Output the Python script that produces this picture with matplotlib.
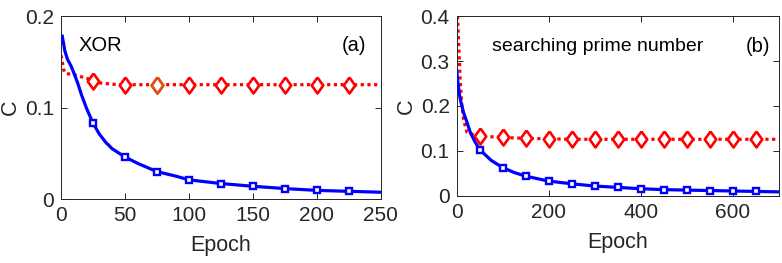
import matplotlib
matplotlib.use("Agg")
import matplotlib.pyplot as plt
import numpy as np

plt.rcParams['font.family'] = ['Liberation Sans', 'DejaVu Sans']

# (a) XOR
xor_epoch_blue = [1, 3, 5, 8, 10, 13, 16, 20, 25, 30, 35, 40, 50, 60, 75, 90, 100,
                  125, 150, 175, 200, 225, 250]
xor_cost_blue = [0.178, 0.162, 0.153, 0.145, 0.138, 0.127, 0.114, 0.099, 0.083, 0.071,
                 0.062, 0.055, 0.046, 0.039, 0.030, 0.025, 0.021, 0.017, 0.014, 0.0115,
                 0.0095, 0.0085, 0.0075]
xor_epoch_red = [0, 1, 2, 3, 5, 10, 15, 20, 25, 30, 40, 50, 75, 100, 125, 150, 175,
                 200, 225, 250]
xor_cost_red = [0.157, 0.150, 0.142, 0.138, 0.137, 0.136, 0.134, 0.132, 0.1295, 0.127,
                0.1255, 0.125, 0.125, 0.125, 0.125, 0.125, 0.125, 0.125, 0.125, 0.125]
xor_marks = [25, 50, 75, 100, 125, 150, 175, 200, 225]
xor_odd_mark = 75

# (b) searching prime number
prime_epoch_blue = [0, 3, 6, 10, 15, 22, 30, 40, 50, 75, 100, 125, 150, 200, 250, 300,
                    350, 400, 450, 500, 550, 600, 650, 700]
prime_cost_blue = [0.28, 0.25, 0.225, 0.205, 0.185, 0.165, 0.14, 0.12, 0.103, 0.079,
                   0.063, 0.052, 0.044, 0.033, 0.027, 0.022, 0.019, 0.016, 0.014, 0.013,
                   0.012, 0.011, 0.010, 0.009]
prime_epoch_red = [2, 5, 8, 11, 15, 22, 35, 50, 100, 150, 200, 250, 300, 350, 400, 450,
                   500, 550, 600, 650, 700]
prime_cost_red = [0.40, 0.32, 0.25, 0.205, 0.17, 0.142, 0.137, 0.133, 0.130, 0.128,
                  0.127, 0.126, 0.126, 0.126, 0.126, 0.126, 0.126, 0.126, 0.126, 0.126,
                  0.126]
prime_marks = [50, 100, 150, 200, 250, 300, 350, 400, 450, 500, 550, 600, 650]

fig = plt.figure(figsize=(7.82, 2.63), dpi=100)
ax1 = fig.add_axes([0.078, 0.243, 0.409, 0.696])
ax2 = fig.add_axes([0.584, 0.255, 0.412, 0.684])

dots = (0, (1, 1.1))
# matlab-like diamond, a bit narrower than tall
diamond = [(0, 1), (0.72, 0), (0, -1), (-0.72, 0), (0, 1)]


def draw(ax, xb, yb, xr, yr, marks):
    xb = np.array(xb); yb = np.array(yb)
    xr = np.array(xr); yr = np.array(yr)
    ax.plot(xr, yr, color='red', lw=2.3, ls=dots, zorder=2)
    ax.plot(xb, yb, color='blue', lw=2.3, zorder=3)
    ib = [i for i, v in enumerate(xb) if v in marks]
    ir = [i for i, v in enumerate(xr) if v in marks]
    ax.plot(xb[ib], yb[ib], ls='none', marker='s', ms=5, mew=1.7,
            mec='blue', mfc='white', zorder=4)
    ax.plot(xr[ir], yr[ir], ls='none', marker=diamond, ms=11.5, mew=1.9,
            mec='red', mfc='white', zorder=4)
    return xr, yr


def style(ax):
    for s in ax.spines.values():
        s.set_color('#262626')
        s.set_linewidth(0.7)
    ax.tick_params(direction='in', length=4, width=0.7, colors='#262626',
                   labelsize=15, top=True, right=True, pad=5)
    ax.set_xlabel('Epoch', fontsize=15.5, color='#262626', labelpad=7)
    ax.set_ylabel('C', fontsize=15.5, color='#262626', labelpad=3)


xr, yr = draw(ax1, xor_epoch_blue, xor_cost_blue, xor_epoch_red, xor_cost_red, xor_marks)
k = list(xr).index(xor_odd_mark)
ax1.plot(xr[k], yr[k], ls='none', marker=diamond, ms=11.5, mew=1.9,
         mec='#D95319', mfc='white', zorder=5)
ax1.set_xlim(0, 250)
ax1.set_ylim(0, 0.2)
ax1.set_xticks([0, 50, 100, 150, 200, 250])
ax1.set_yticks([0, 0.1, 0.2])
ax1.set_yticklabels(['0', '0.1', '0.2'])
style(ax1)
ax1.text(0.056, 0.84, 'XOR', transform=ax1.transAxes, fontsize=14.5, va='center')
ax1.text(0.955, 0.84, '(a)', transform=ax1.transAxes, fontsize=14.5, va='center', ha='right')

draw(ax2, prime_epoch_blue, prime_cost_blue, prime_epoch_red, prime_cost_red, prime_marks)
ax2.set_xlim(0, 700)
ax2.set_ylim(0, 0.4)
ax2.set_xticks([0, 200, 400, 600])
ax2.set_yticks([0, 0.1, 0.2, 0.3, 0.4])
ax2.set_yticklabels(['0', '0.1', '0.2', '0.3', '0.4'])
style(ax2)
ax2.text(0.109, 0.83, 'searching prime number', transform=ax2.transAxes, fontsize=14,
         va='center')
ax2.text(0.972, 0.83, '(b)', transform=ax2.transAxes, fontsize=14.5, va='center', ha='right')

fig.savefig('out.png', dpi=100)
